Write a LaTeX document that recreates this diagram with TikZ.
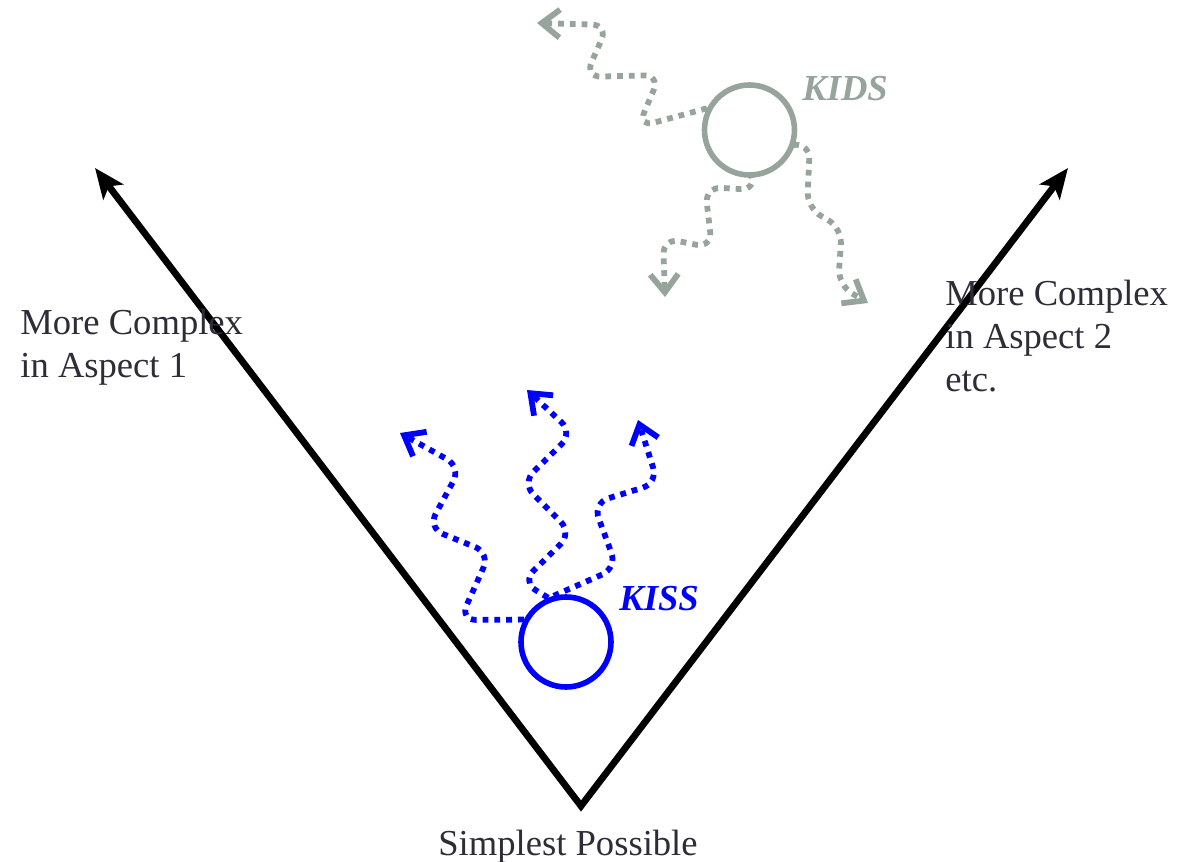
\documentclass[tikz,border=0pt]{standalone}
\usepackage{fontspec}
\setmainfont{Liberation Serif}
\usetikzlibrary{arrows.meta}
\definecolor{txtgray}{RGB}{45,45,55}
\definecolor{kissblue}{RGB}{0,0,255}
\definecolor{kidsgray}{RGB}{150,164,155}
\tikzset{
  axis/.style={line width=3.4pt, line join=miter, {Stealth[length=15pt,width=12.5pt,inset=3.5pt]}-{Stealth[length=15pt,width=12.5pt,inset=3.5pt]}},
  label/.style={font=\fontsize{18.3}{21.5}\selectfont, text=txtgray, inner sep=0pt},
  ball/.style={circle, line width=2.8pt, minimum size=45pt, inner sep=0pt},
  tag/.style={font=\fontsize{18.3}{21.5}\selectfont\bfseries\itshape, inner sep=0pt},
  wiggle/.style={line width=2.9pt, dash pattern=on 2.9pt off 3pt, rounded corners=8pt,
     -{Straight Barb[length=9pt,width=14pt,line width=2.9pt]}},
}
\begin{document}
\begin{tikzpicture}[x=0.5pt,y=-0.5pt]
\useasboundingbox (0,0) rectangle (1190,862);
% axes
\coordinate (base) at (581,806);
\coordinate (lefttip) at (95,168);
\coordinate (righttip) at (1068,168);
\draw[axis] (lefttip) -- (base) -- (righttip);
% labels
\node[label, anchor=north west, align=left] (aspect1) at (20,309) {More Complex\\in Aspect 1};
\node[label, anchor=north west, align=left] (aspect2) at (945,280) {More Complex\\in Aspect 2\\etc.};
\node[label, anchor=base] (simplest) at (568,855) {Simplest Possible};
% KISS
\node[ball, draw=kissblue] (kiss) at (566,642) {};
\node[tag, text=kissblue, anchor=base west] (kisslbl) at (619,610) {KISS};
\coordinate (k1) at (400,433);
\coordinate (k2) at (527,390);
\coordinate (k3) at (638,420);
\draw[wiggle, kissblue] (kiss.152) -- (460,620) -- (490,553) -- (428,528) -- (461,467) -- (k1);
\draw[wiggle, kissblue] (kiss.112) -- (522,582) -- (572,533) -- (522,483) -- (573,433) -- (k2);
\draw[wiggle, kissblue] (kiss.105) -- (617,568) -- (593,503) -- (658,483) -- (k3);
% KIDS
\node[ball, draw=kidsgray] (kids) at (749.5,130) {};
\node[tag, text=kidsgray, anchor=base west] (kidslbl) at (802,100) {KIDS};
\coordinate (d1) at (537,23);
\coordinate (d2) at (665,297);
\coordinate (d3) at (868,303);
\draw[wiggle, kidsgray] (kids.153) -- (638,127) -- (660,75) -- (585,77) -- (608,25) -- (d1);
\draw[wiggle, kidsgray] (kids.-87) -- (757,190) -- (705,187) -- (712,248) -- (663,238) -- (d2);
\draw[wiggle, kidsgray] (kids.-18) -- (810,143) -- (807,208) -- (842,228) -- (838,285) -- (d3);
\end{tikzpicture}
\end{document}
